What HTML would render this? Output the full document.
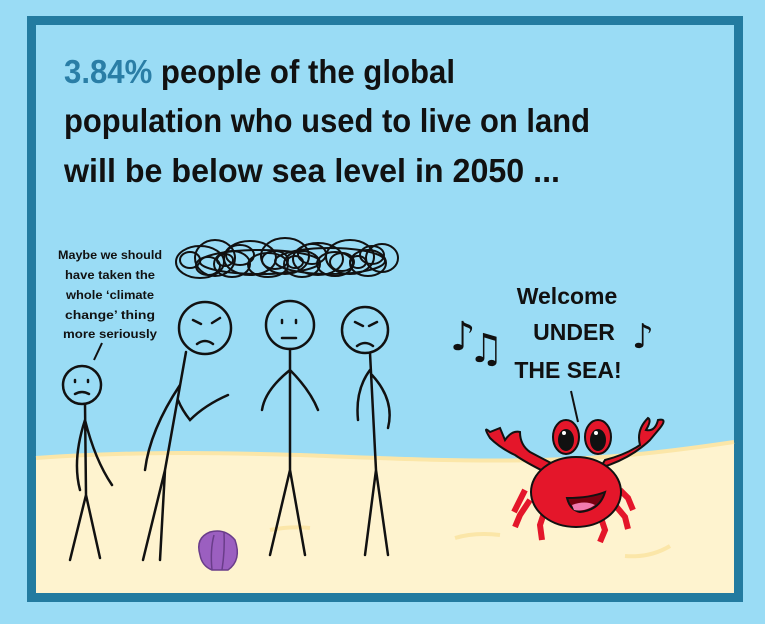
<!DOCTYPE html>
<html><head><meta charset="utf-8"><style>
html,body{margin:0;padding:0;background:#9adcf5;}
svg{display:block}
</style></head><body>
<svg width="765" height="624" viewBox="0 0 765 624">
<rect x="0" y="0" width="765" height="624" fill="#9adcf5"/>
<rect x="31.5" y="20.5" width="707" height="577" fill="#9adcf5" stroke="#237ba0" stroke-width="9"/>
<path d="M36,458 C120,452 200,452 300,455 C380,458 460,462 540,460 C620,458 680,450 734,442 L734,593 L36,593 Z" fill="#fef3cf"/>
<path d="M36,458 C120,452 200,452 300,455 C380,458 460,462 540,460 C620,458 680,450 734,442" fill="none" stroke="#fbe6a8" stroke-width="4"/>
<path d="M455,538 q20,-6 45,-3 M625,556 q25,2 45,-10 M270,530 q20,-4 40,-2" stroke="#fbe6a8" stroke-width="4" fill="none"/>

<g font-family="'Liberation Sans',sans-serif" font-weight="bold" font-size="33">
<text x="64" y="83" textLength="391" lengthAdjust="spacingAndGlyphs"><tspan fill="#2a7ea6">3.84%</tspan><tspan fill="#111"> people of the global</tspan></text>
<text x="64" y="132" fill="#111" textLength="526" lengthAdjust="spacingAndGlyphs">population who used to live on land</text>
<text x="64" y="182" fill="#111" textLength="496" lengthAdjust="spacingAndGlyphs">will be below sea level in 2050 ...</text>
</g>

<g font-family="'Liberation Sans',sans-serif" font-weight="bold" font-size="12" fill="#111" text-anchor="middle">
<text x="110" y="259" textLength="104" lengthAdjust="spacingAndGlyphs">Maybe we should</text>
<text x="110" y="279" textLength="90" lengthAdjust="spacingAndGlyphs">have taken the</text>
<text x="110" y="299" textLength="88" lengthAdjust="spacingAndGlyphs">whole ‘climate</text>
<text x="110" y="319" textLength="90" lengthAdjust="spacingAndGlyphs">change’ thing</text>
<text x="110" y="338" textLength="94" lengthAdjust="spacingAndGlyphs">more seriously</text>
</g>
<path d="M102,343 L94,360" stroke="#111" stroke-width="2"/>

<g font-family="'Liberation Sans',sans-serif" font-weight="bold" font-size="23" fill="#111" text-anchor="middle">
<text x="567" y="304">Welcome</text>
<text x="574" y="340">UNDER</text>
<text x="568" y="378">THE SEA!</text>
</g>
<path d="M571,391 L578,422" stroke="#111" stroke-width="2"/>
<g font-family="'DejaVu Sans',sans-serif" font-size="40" fill="#111">
<text x="450" y="350">♪</text><text x="468" y="362">♫</text><text x="632" y="348" font-size="34">♪</text>
</g>

<g fill="none" stroke="#111" stroke-width="2">
<ellipse cx="200" cy="262" rx="24" ry="16"/><ellipse cx="215" cy="258" rx="20" ry="18"/>
<ellipse cx="232" cy="264" rx="18" ry="13"/><ellipse cx="250" cy="258" rx="26" ry="17"/>
<ellipse cx="268" cy="265" rx="20" ry="12"/><ellipse cx="285" cy="256" rx="24" ry="18"/>
<ellipse cx="302" cy="264" rx="18" ry="13"/><ellipse cx="318" cy="259" rx="25" ry="16"/>
<ellipse cx="335" cy="264" rx="18" ry="12"/><ellipse cx="350" cy="257" rx="24" ry="17"/>
<ellipse cx="368" cy="263" rx="18" ry="13"/><ellipse cx="382" cy="258" rx="16" ry="14"/>
<ellipse cx="208" cy="266" rx="12" ry="9"/><ellipse cx="240" cy="255" rx="14" ry="10"/>
<ellipse cx="275" cy="260" rx="13" ry="9"/><ellipse cx="312" cy="254" rx="14" ry="10"/>
<ellipse cx="342" cy="262" rx="12" ry="9"/><ellipse cx="372" cy="255" rx="12" ry="9"/>
<ellipse cx="260" cy="262" rx="60" ry="12"/><ellipse cx="330" cy="261" rx="55" ry="13"/>
<ellipse cx="225" cy="260" rx="8" ry="6"/><ellipse cx="295" cy="262" rx="8" ry="6"/>
<ellipse cx="358" cy="262" rx="8" ry="6"/><ellipse cx="190" cy="260" rx="10" ry="8"/>
</g>

<g fill="none" stroke="#111" stroke-width="2.5" stroke-linecap="round">
<g>
<circle cx="82" cy="385" r="19"/><path d="M75,380 v2 M88,380 v2 M75,394 q7,-4 14,0"/>
<path d="M85,404 L86,495 M86,495 L70,560 M86,495 L100,558 M85,420 Q72,460 80,490 M85,420 Q95,460 112,485"/>
</g>
<g>
<circle cx="205" cy="328" r="26"/><path d="M193,320 l8,4 M220,318 l-8,5 M197,344 q8,-6 16,0"/>
<path d="M186,352 L165,470 M165,470 L143,560 M165,470 L160,560 M180,385 Q150,430 145,470 M178,400 Q182,410 190,420 Q205,405 228,395"/>
</g>
<g>
<circle cx="290" cy="325" r="24"/><path d="M282,320 v3 M296,320 v3 M282,338 h14"/>
<path d="M290,349 L290,470 M290,470 L270,555 M290,470 L305,555 M290,370 Q265,390 262,410 M290,370 Q310,390 318,410"/>
</g>
<g>
<circle cx="365" cy="330" r="23"/><path d="M355,322 l8,4 M377,322 l-8,4 M357,346 q8,-6 16,0"/>
<path d="M370,353 L376,470 M376,470 L365,555 M376,470 L388,555 M370,370 Q355,390 358,420 M372,375 Q395,400 388,428"/>
</g>
</g>

<g>
<path d="M200,555 Q195,538 210,532 Q225,528 235,540 Q242,560 228,570 L212,570 Q202,566 200,555 Z" fill="#9b5fc0" stroke="#6a3d8a" stroke-width="1.5"/>
<path d="M212,570 Q210,550 214,535 M222,570 Q225,550 224,532" stroke="#6a3d8a" stroke-width="1.5" fill="none"/>
</g>

<g stroke="#111" stroke-width="2">
<g fill="#e4162a">
<path d="M545,472 Q525,462 515,455 Q500,448 490,438 Q482,425 490,432 L500,428 L505,440 Q512,430 520,432 Q520,445 530,452 Q545,460 555,465 Z"/>
<path d="M600,468 Q620,462 635,452 Q645,445 650,440 L660,428 Q668,418 658,420 Q655,432 646,430 Q652,420 648,418 Q636,430 640,445 Q625,455 605,460 Z"/>
<path d="M525,490 l-5,10 l-6,12 M530,500 l-10,15 l-5,12 M545,510 l-5,15 l2,15" fill="none" stroke="#e4162a" stroke-width="6"/>
<path d="M620,490 l8,8 l5,12 M615,505 l10,12 l3,12 M600,515 l5,15 l-5,12" fill="none" stroke="#e4162a" stroke-width="6"/>
<ellipse cx="576" cy="492" rx="45" ry="35"/>
<ellipse cx="566" cy="437" rx="13" ry="17"/><ellipse cx="598" cy="437" rx="13" ry="17"/>
</g>
<ellipse cx="566" cy="440" rx="7" ry="10" fill="#111"/><ellipse cx="598" cy="440" rx="7" ry="10" fill="#111"/>
<circle cx="564" cy="433" r="2" fill="#fff" stroke="none"/><circle cx="596" cy="433" r="2" fill="#fff" stroke="none"/>
<path d="M567,498 Q590,498 605,492 Q600,510 580,512 Q570,510 567,498 Z" fill="#7a0010"/>
<path d="M572,505 Q585,500 595,505 Q585,512 574,510 Z" fill="#f27ab0" stroke="none"/>
</g>
</svg>
</body></html>
